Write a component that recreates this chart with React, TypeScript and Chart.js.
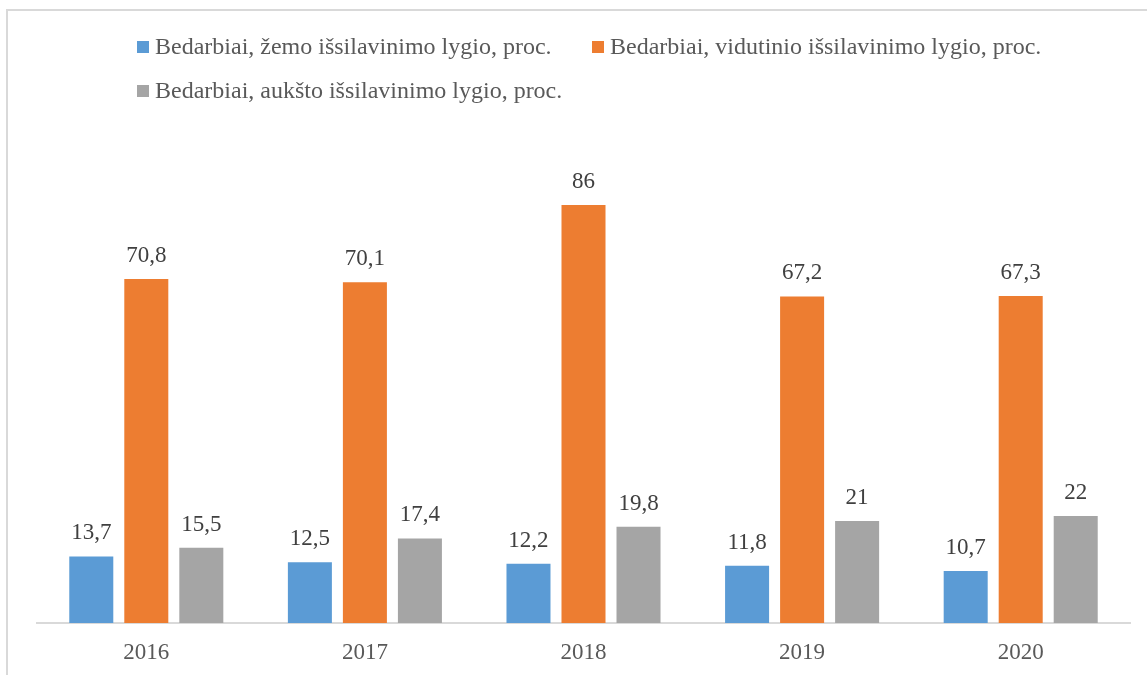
import React, { useEffect, useRef } from "react";
import { Chart, registerables } from "chart.js";

Chart.register(...registerables);

const categories = ["2016", "2017", "2018", "2019", "2020"];
const seriesNames = [
  "Bedarbiai, žemo išsilavinimo lygio, proc.",
  "Bedarbiai, vidutinio išsilavinimo lygio, proc.",
  "Bedarbiai, aukšto išsilavinimo lygio, proc.",
];
const lowValues = [13.7, 12.5, 12.2, 11.8, 10.7];
const midValues = [70.8, 70.1, 86, 67.2, 67.3];
const highValues = [15.5, 17.4, 19.8, 21, 22];
const colors = ["#5B9BD5", "#ED7D31", "#A5A5A5"];

const FONT = '"Liberation Serif", "Times New Roman", serif';

const fmt = (v: number) => String(v).replace(".", ",");

const dataLabelPlugin = {
  id: "dataLabels",
  afterDatasetsDraw(chart: any) {
    const ctx = chart.ctx;
    ctx.save();
    ctx.font = `23px ${FONT}`;
    ctx.fillStyle = "#404040";
    ctx.textAlign = "center";
    ctx.textBaseline = "alphabetic";
    chart.data.datasets.forEach((ds: any, i: number) => {
      const meta = chart.getDatasetMeta(i);
      meta.data.forEach((bar: any, j: number) => {
        ctx.fillText(fmt(ds.data[j]), bar.x, bar.y - 17);
      });
    });
    ctx.restore();
  },
};

const legendPlugin = {
  id: "customLegend",
  afterDraw(chart: any) {
    const ctx = chart.ctx;
    ctx.save();
    ctx.font = `24px ${FONT}`;
    ctx.textBaseline = "middle";
    ctx.textAlign = "left";
    const colX = [137, 592];
    chart.data.datasets.forEach((ds: any, i: number) => {
      const x = colX[i % 2];
      const y = 47 + Math.floor(i / 2) * 44;
      ctx.fillStyle = ds.backgroundColor;
      ctx.fillRect(x, y - 6, 12, 12);
      ctx.fillStyle = "#595959";
      ctx.fillText(ds.label, x + 18, y + 1);
    });
    ctx.restore();
  },
};

export default function App() {
  const canvasRef = useRef<HTMLCanvasElement | null>(null);

  useEffect(() => {
    if (!canvasRef.current) return;
    const chart = new Chart(canvasRef.current, {
      type: "bar",
      data: {
        labels: categories,
        datasets: [
          { label: seriesNames[0], data: lowValues, backgroundColor: colors[0] },
          { label: seriesNames[1], data: midValues, backgroundColor: colors[1] },
          { label: seriesNames[2], data: highValues, backgroundColor: colors[2] },
        ],
      },
      options: {
        responsive: true,
        maintainAspectRatio: false,
        animation: false,
        datasets: {
          bar: { barPercentage: 0.8, categoryPercentage: 0.755 },
        },
        layout: { padding: { left: 37, right: 17, top: 137, bottom: 0 } },
        plugins: {
          legend: { display: false },
          tooltip: { enabled: false },
          title: { display: false },
        },
        scales: {
          x: {
            grid: { display: false, drawTicks: false },
            border: { display: true, color: "#d9d9d9", width: 2 },
            ticks: {
              color: "#595959",
              font: { family: FONT, size: 23 },
              padding: 16,
            },
            afterFit: (s: any) => {
              s.height = 52;
            },
          },
          y: {
            display: false,
            min: 0,
            max: 100,
          },
        },
      },
      plugins: [dataLabelPlugin, legendPlugin],
    });
    return () => chart.destroy();
  }, []);

  return (
    <div
      style={{
        position: "fixed",
        left: 0,
        top: 0,
        width: 1147,
        height: 675,
        background: "#ffffff",
        overflow: "hidden",
      }}
    >
      <div
        style={{
          position: "absolute",
          left: 6,
          top: 9,
          width: 1200,
          height: 700,
          borderLeft: "2px solid #d9d9d9",
          borderTop: "2px solid #d9d9d9",
        }}
      />
      <div style={{ position: "absolute", left: 0, top: 0, width: 1147, height: 675 }}>
        <canvas ref={canvasRef} />
      </div>
    </div>
  );
}
